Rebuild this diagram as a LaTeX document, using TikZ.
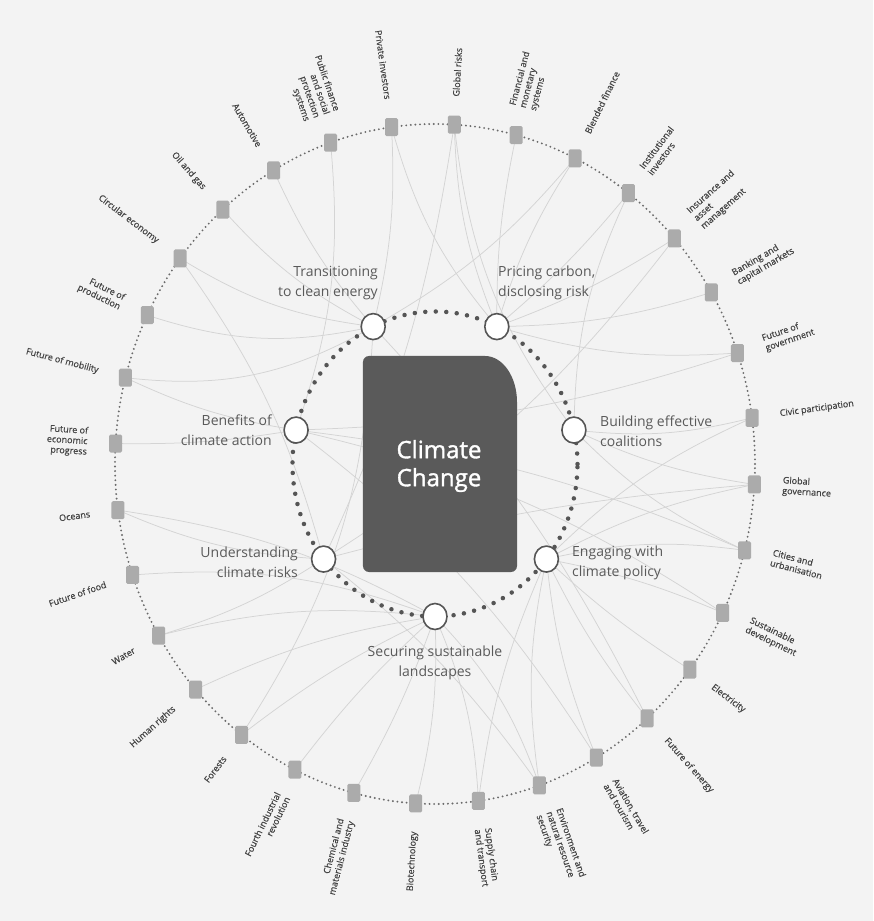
\documentclass[tikz,border=0pt]{standalone}
\usepackage{fontspec}
\setmainfont{Open Sans}
\newfontfamily\hubfont[FakeBold=1.4]{Open Sans}
\newfontfamily\tagfont[FakeBold=0.6]{Open Sans}
\usetikzlibrary{shapes.geometric}
\definecolor{bg}{HTML}{F3F3F3}
\definecolor{hub}{HTML}{5A5A5A}
\definecolor{tilegray}{HTML}{ABABAB}
\definecolor{ringdot}{HTML}{6A6A6A}
\definecolor{innerdot}{HTML}{555555}
\definecolor{linkgray}{HTML}{D4D4D4}
\definecolor{labeltext}{HTML}{444444}
\definecolor{themetext}{HTML}{5A5A5A}

\begin{document}
\begin{tikzpicture}[x=1pt,y=1pt,
  tile/.style={fill=tilegray, minimum width=13pt, minimum height=18pt, inner sep=0pt, rounded corners=1.5pt},
  theme/.style={ellipse, draw=innerdot, line width=1.6pt, fill=white, minimum width=24pt, minimum height=26pt, inner sep=0pt},
  outlabel/.style={text=labeltext, font=\tagfont\fontsize{9}{10.5}\selectfont, inner sep=0pt},
  themelabel/.style={text=themetext, font=\fontsize{14}{20}\selectfont, inner sep=0pt},
  ringdots/.style={draw=ringdot, line width=2.1pt, line cap=round, dash pattern=on 0pt off 4.6pt},
  innerdots/.style={draw=innerdot, line width=4.5pt, line cap=round, dash pattern=on 0pt off 10.5pt},
  link/.style={draw=linkgray, line width=0.75pt}]

% page and background
\fill[bg] (-435,-457) rectangle (438,464);
\useasboundingbox (-435,-457) rectangle (438,464);

% the seven themes on the inner ring (placed first so links can reach them)
\coordinate (T)  at (115.71:142.5 and 152.5);
\coordinate (P)  at (64.29:142.5 and 152.5);
\coordinate (Bu) at (12.86:142.5 and 152.5);
\coordinate (E)  at (321.43:142.5 and 152.5);
\coordinate (S)  at (270:142.5 and 152.5);
\coordinate (U)  at (218.57:142.5 and 152.5);
\coordinate (Be) at (167.14:142.5 and 152.5);

% outer ring anchor points
\foreach \k in {0,...,31} {
  \pgfmathsetmacro\ang{7.8+11.25*\k}
  \coordinate (p\k) at (\ang:320 and 340);
}

% links between topics and themes
\foreach \k/\t/\b in {0/Bu/10, 0/E/-10, 1/P/10, 1/Be/8, 2/P/8, 3/P/6, 3/U/10,
    4/P/5, 4/Bu/-12, 5/P/-8, 5/T/10, 6/P/-6, 7/U/8, 7/P/-10, 7/Bu/-15,
    8/P/-12, 8/T/8, 9/Be/12, 10/T/-8, 11/T/-10, 12/T/-12, 12/U/10,
    13/T/-15, 14/T/-18, 14/Be/-8, 15/Be/-5, 16/U/-10, 16/S/10, 17/S/12,
    18/U/-8, 18/S/10, 19/S/8, 20/S/6, 20/T/-15, 21/S/5, 22/S/-5, 23/S/-8,
    24/S/-10, 24/E/8, 25/S/-12, 25/E/10, 25/U/-8, 26/E/8, 26/Be/-10,
    27/E/6, 27/T/-8, 28/E/5, 29/E/-6, 29/Be/-10, 30/E/-10, 30/Bu/10,
    30/Be/-8, 31/Bu/8, 31/E/-8, 31/U/-5} {
  \draw[link] (p\k) to[bend left=\b] (\t);
}

% dotted rings
\draw[ringdots] (0,0) ellipse [x radius=320, y radius=340];
\draw[innerdots] (0,0) ellipse [x radius=142.5, y radius=152.5];

% outer topics: tiles and labels
\foreach \k/\txt in {
    0/{Civic participation},
    1/{Future of\\government},
    2/{Banking and\\capital markets},
    3/{Insurance and\\asset\\management},
    4/{Institutional\\investors},
    5/{Blended finance},
    6/{Financial and\\monetary\\systems},
    7/{Global risks},
    8/{Private investors},
    9/{Public finance\\and social\\protection\\systems},
    10/{Automotive},
    11/{Oil and gas},
    12/{Circular economy},
    13/{Future of\\production},
    14/{Future of mobility},
    15/{Future of\\economic\\progress},
    16/{Oceans},
    17/{Future of food},
    18/{Water},
    19/{Human rights},
    20/{Forests},
    21/{Fourth industrial\\revolution},
    22/{Chemical and\\materials industry},
    23/{Biotechnology},
    24/{Supply chain\\and transport},
    25/{Environment and\\natural resource\\security},
    26/{Aviation, travel\\and tourism},
    27/{Future of energy},
    28/{Electricity},
    29/{Sustainable\\development},
    30/{Cities and\\urbanisation},
    31/{Global\\governance}} {
  \pgfmathsetmacro\ang{7.8+11.25*\k}
  \pgfmathtruncatemacro\isleft{(\ang>90 && \ang<270) ? 1 : 0}
  \node[tile] (o\k) at (p\k) {};
  \ifnum\isleft=1
    \node[outlabel, anchor=east, align=right, rotate=\ang-180] (lab\k) at (\ang:348 and 368) {\txt};
  \else
    \node[outlabel, anchor=west, align=left, rotate=\ang] (lab\k) at (\ang:348 and 368) {\txt};
  \fi
}

% theme circles
\foreach \n in {T,P,Bu,E,S,U,Be} {
  \node[theme] (c\n) at (\n) {};
}

% central block with one large rounded corner
\fill[hub] (-66,-108) -- (76,-108) arc[start angle=270, end angle=360, radius=6]
  -- (82,62) arc[start angle=0, end angle=90, x radius=32, y radius=46]
  -- (-66,108) arc[start angle=90, end angle=180, radius=6]
  -- (-72,-102) arc[start angle=180, end angle=270, radius=6] -- cycle;
\node[text=white, font=\hubfont\fontsize{24}{28}\selectfont, align=center, inner sep=0pt] (hubtext) at (4,-2) {Climate\\Change};

% theme labels
\node[themelabel, anchor=east, align=right] (tT) at (-57,181) {Transitioning\\to clean energy};
\node[themelabel, anchor=west, align=left] (tP) at (63,181) {Pricing carbon,\\disclosing risk};
\node[themelabel, anchor=west, align=left] (tBu) at (165,33) {Building effective\\coalitions};
\node[themelabel, anchor=west, align=left] (tE) at (137,-99) {Engaging with\\climate policy};
\node[themelabel, anchor=east, align=right] (tU) at (-137,-98) {Understanding\\climate risks};
\node[themelabel, anchor=east, align=right] (tBe) at (-163,34) {Benefits of\\climate action};
\node[themelabel, align=center] (tS) at (0,-199) {Securing sustainable\\landscapes};
\end{tikzpicture}
\end{document}
